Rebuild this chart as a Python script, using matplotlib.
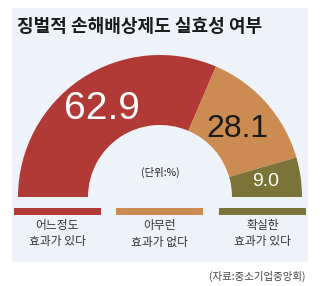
import matplotlib
matplotlib.use("Agg")
import matplotlib.pyplot as plt
from matplotlib.patches import Rectangle
import numpy as np

plt.rcParams['font.family'] = ['Noto Sans CJK KR', 'DejaVu Sans']

title = "징벌적 손해배상제도 실효성 여부"
categories = ["어느정도\n효과가 있다", "아무런\n효과가 없다", "확실한\n효과가 있다"]
values = [62.9, 28.1, 9.0]
value_labels = ["62.9", "28.1", "9.0"]
colors = ["#b23a36", "#cc8b50", "#7b7338"]
label_colors = ["white", "#1a1a1a", "white"]
label_sizes = [28, 23, 14]
unit_text = "(단위:%)"
source = "(자료:중소기업중앙회)"

W, H = 320, 286
fig = plt.figure(figsize=(W / 100, H / 100), dpi=100)
ax = fig.add_axes([0, 0, 1, 1])

def yd(y):
    return H - y

# panel
ax.add_patch(Rectangle((12, yd(262)), 296, 254, facecolor="#eef3f9", edgecolor="none", zorder=0))

cx, cy, R, width = 160, yd(197), 142, 70
wedges, _ = ax.pie(values + [sum(values)], colors=colors + ["none"], startangle=180,
                   counterclock=False, radius=R, center=(cx, cy),
                   wedgeprops=dict(width=width, linewidth=0), frame=True)
wedges[-1].set_visible(False)
ax.set_xlim(0, W)
ax.set_ylim(0, H)
ax.set_aspect('auto')
ax.axis('off')

num_font = ['Liberation Sans Narrow', 'Liberation Sans']
rr = [105, 103, 107]
for w, lab, c, s, r in zip(wedges[:3], value_labels, label_colors, label_sizes, rr):
    ang = np.deg2rad((w.theta1 + w.theta2) / 2)
    ax.text(cx + r * np.cos(ang), cy + r * np.sin(ang), lab, color=c, fontsize=s,
            family=num_font, ha='center', va='center', zorder=5)

ax.text(160, yd(172), unit_text, fontsize=7.5, color="#222222", ha='center', va='center')

# legend bars and labels
bar_x = [14, 116, 219]
bar_w = 87
for x0, col, cat in zip(bar_x, colors, categories):
    ax.add_patch(Rectangle((x0, yd(215)), bar_w, 7, facecolor=col, edgecolor='none', zorder=2))
    ax.text(x0 + bar_w / 2, yd(234), cat, fontsize=8.5, color="#333333", ha='center',
            va='center', linespacing=1.3)

ax.text(17, yd(27), title, fontsize=13, fontweight='bold', color="#1a1a1a",
        ha='left', va='center')
ax.text(306, yd(276), source, fontsize=7.5, color="#444444", ha='right', va='center')

fig.savefig("out.png", dpi=100)
